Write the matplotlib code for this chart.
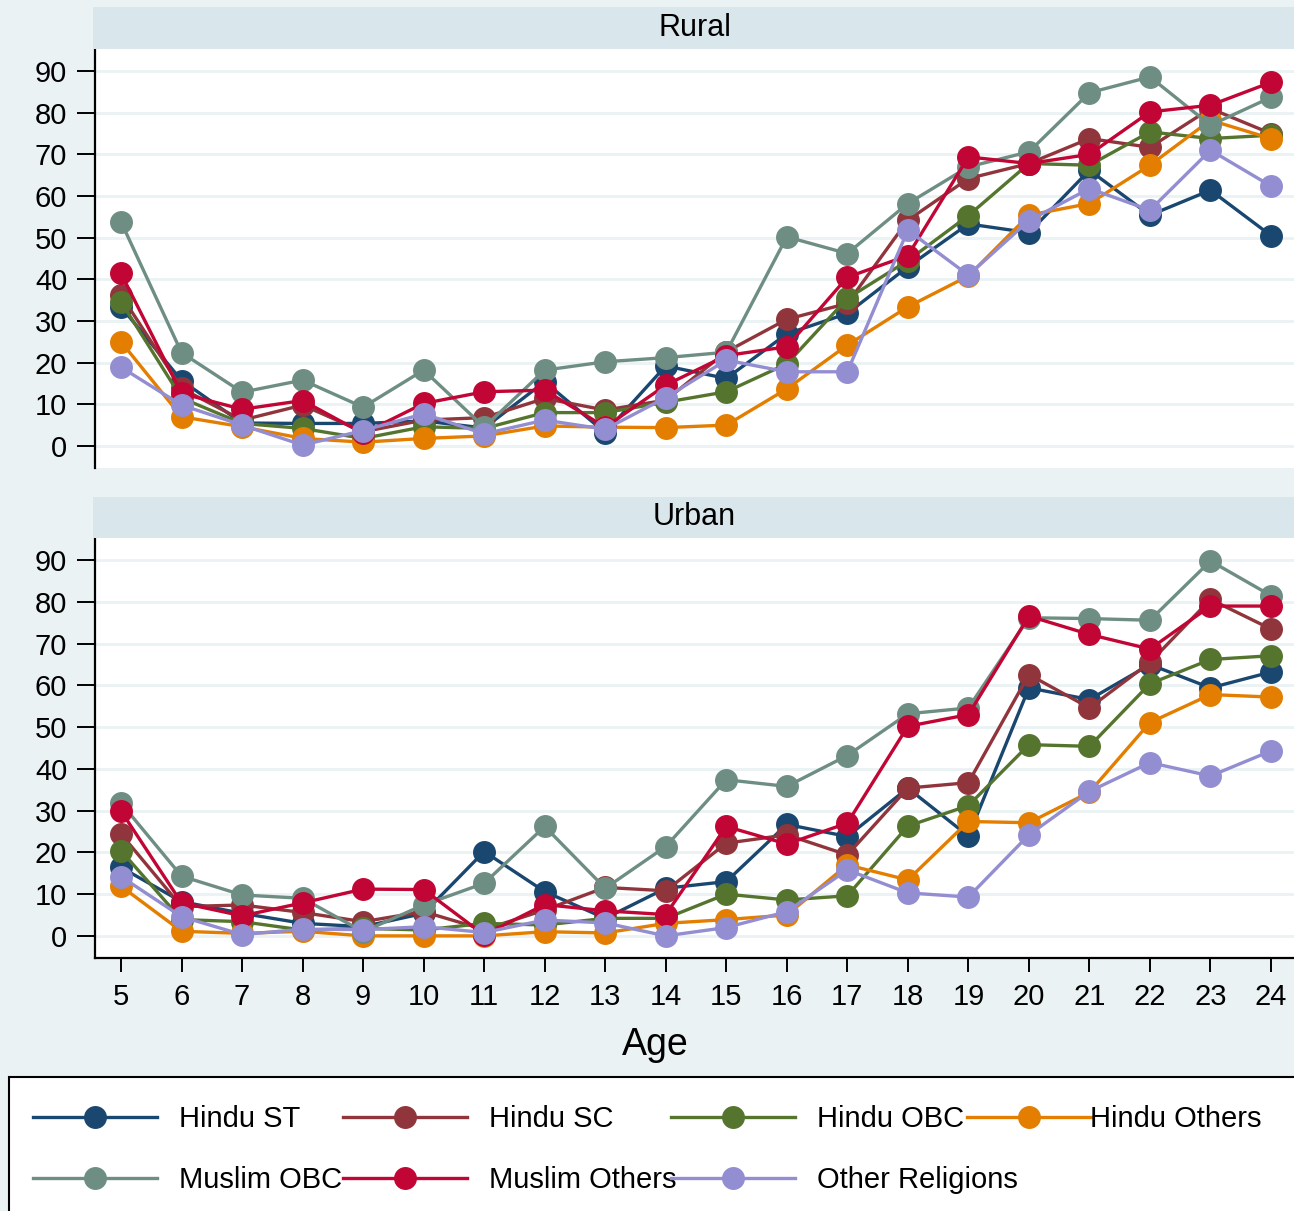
import matplotlib
matplotlib.use("Agg")
import matplotlib.pyplot as plt
from matplotlib.patches import Rectangle

plt.rcParams['font.family'] = ['Liberation Sans', 'DejaVu Sans']

ages = list(range(5, 25))
groups = ['Hindu ST', 'Hindu SC', 'Hindu OBC', 'Hindu Others',
          'Muslim OBC', 'Muslim Others', 'Other Religions']
colors = ['#1A476F', '#90353B', '#55752F', '#E37E00',
          '#6E8E84', '#C10534', '#938DD2']

# rural
hindu_st_r = [33.4, 15.7, 5.5, 5.4, 5.4, 6.0, 4.3, 15.4, 3.2, 19.2, 16.2, 26.9, 31.8, 43.0, 53.3, 51.2, 66.2, 55.4, 61.4, 50.5]
hindu_sc_r = [36.2, 13.8, 6.2, 9.8, 3.4, 6.2, 6.8, 11.4, 8.6, 11.0, 22.6, 30.4, 34.2, 54.2, 64.2, 67.8, 73.8, 71.7, 81.0, 75.0]
hindu_obc_r = [34.6, 11.5, 5.4, 4.2, 1.8, 4.6, 4.2, 8.0, 8.0, 10.5, 13.0, 19.7, 35.4, 44.5, 55.3, 67.8, 67.4, 75.4, 73.8, 74.6]
hindu_oth_r = [25.0, 7.0, 4.6, 1.8, 0.9, 1.8, 2.4, 4.8, 4.5, 4.4, 5.0, 13.7, 24.2, 33.4, 40.8, 55.4, 58.2, 67.4, 78.2, 73.8]
muslim_obc_r = [53.8, 22.4, 12.9, 15.8, 9.3, 18.2, 4.5, 18.2, 20.2, 21.2, 22.5, 50.2, 46.2, 58.2, 67.0, 70.6, 84.8, 88.6, 77.0, 83.7]
muslim_oth_r = [41.4, 12.6, 8.8, 10.9, 3.0, 10.2, 13.0, 13.4, 4.5, 14.6, 21.7, 23.8, 40.5, 45.7, 69.4, 67.8, 70.0, 80.2, 81.8, 87.3]
other_rel_r = [18.9, 9.8, 5.0, 0.2, 3.7, 7.7, 2.9, 6.2, 4.0, 11.6, 20.6, 17.8, 17.8, 51.8, 41.0, 54.1, 61.8, 56.6, 71.0, 62.4]

# urban
hindu_st_u = [16.4, 8.2, 5.4, 3.0, 2.2, 5.4, 20.2, 10.6, 4.2, 11.4, 13.0, 26.7, 23.8, 35.4, 23.9, 59.4, 56.6, 65.0, 59.4, 63.2]
hindu_sc_u = [24.4, 7.0, 7.4, 5.6, 3.4, 5.8, 1.5, 6.2, 11.6, 10.8, 22.2, 24.2, 19.4, 35.4, 36.7, 62.6, 54.6, 65.5, 80.6, 73.5]
hindu_obc_u = [20.4, 3.9, 3.4, 1.4, 1.8, 1.4, 3.0, 2.6, 4.2, 4.2, 10.0, 8.6, 9.6, 26.3, 31.2, 45.8, 45.4, 60.4, 66.2, 67.1]
hindu_oth_u = [11.9, 1.1, 0.6, 1.1, 0.0, 0.0, 0.0, 1.0, 0.7, 3.0, 3.9, 5.0, 17.0, 13.4, 27.4, 27.1, 34.4, 51.1, 57.8, 57.2]
muslim_obc_u = [31.8, 14.3, 9.8, 9.0, 1.0, 7.4, 12.6, 26.2, 11.4, 21.4, 37.4, 35.8, 43.2, 53.2, 54.6, 76.2, 76.0, 75.6, 89.8, 81.5]
muslim_oth_u = [29.9, 7.9, 4.8, 7.9, 11.2, 11.1, 0.2, 7.5, 6.0, 5.1, 26.2, 22.0, 27.0, 50.2, 53.0, 76.6, 72.2, 68.7, 79.0, 79.0]
other_rel_u = [14.2, 4.6, 0.3, 1.6, 1.5, 2.2, 0.8, 3.8, 3.1, 0.0, 2.0, 5.8, 15.8, 10.3, 9.3, 24.2, 34.6, 41.5, 38.3, 44.3]

rural = [hindu_st_r, hindu_sc_r, hindu_obc_r, hindu_oth_r, muslim_obc_r, muslim_oth_r, other_rel_r]
urban = [hindu_st_u, hindu_sc_u, hindu_obc_u, hindu_oth_u, muslim_obc_u, muslim_oth_u, other_rel_u]

W, H = 1294, 1211
bg = '#EAF2F3'
fig = plt.figure(figsize=(W / 100, H / 100), dpi=100, facecolor=bg)


def fx(px):
    return px / W


def fy(py):
    return 1 - py / H


def panel(top, bottom, strip_top, name, series, xaxis):
    ax = fig.add_axes([fx(95), fy(bottom), 1 - fx(95), fy(top) - fy(bottom)])
    ax.set_facecolor('white')
    fig.add_artist(Rectangle((fx(93), fy(top)), 1.0, fy(strip_top) - fy(top),
                             transform=fig.transFigure, facecolor='#D9E6EB',
                             edgecolor='none'))
    fig.text((fx(95) + 1) / 2, (fy(top) + fy(strip_top)) / 2, name,
             ha='center', va='center', fontsize=22)
    lines = []
    for vals, c, g in zip(series, colors, groups):
        ln, = ax.plot(ages, vals, color=c, lw=2.4, marker='o', ms=15.5,
                      mec=c, mfc=c, label=g, clip_on=False)
        lines.append(ln)
    ax.set_xlim(4.57, 24.38)
    ax.set_ylim(-5.3, 95.3)
    ax.set_yticks(range(0, 91, 10))
    ax.yaxis.grid(True, color=bg, lw=2)
    ax.set_axisbelow(True)
    for s in ['top', 'right']:
        ax.spines[s].set_visible(False)
    ax.spines['left'].set_linewidth(1.6)
    ax.tick_params(axis='y', length=13, width=1.4, pad=7, labelsize=21)
    if xaxis:
        ax.spines['bottom'].set_linewidth(1.6)
        ax.set_xticks(ages)
        ax.tick_params(axis='x', length=10, width=1.4, pad=8, labelsize=21)
    else:
        ax.spines['bottom'].set_visible(False)
        ax.set_xticks([])
    return ax, lines


ax_r, lines = panel(49, 468, 7, 'Rural', rural, False)
ax_u, _ = panel(538, 958, 497, 'Urban', urban, True)

fig.text(fx(655), fy(1045), 'Age', ha='center', va='center', fontsize=27)

# legend box, running off the bottom and right edges
fig.add_artist(Rectangle((fx(9), -0.05), 1.0, fy(1077) + 0.05,
                         transform=fig.transFigure, facecolor='white',
                         edgecolor='black', lw=1.5))

col_x = [33, 343, 671, 967]
col_items = [[0, 4], [1, 5], [2, 6], [3]]
col_pad = [0.75, 0.75, 0.75, -0.05]
for x, idx, pad in zip(col_x, col_items, col_pad):
    fig.legend([lines[i] for i in idx], [groups[i] for i in idx],
               loc='upper left', bbox_to_anchor=(fx(x), fy(1105)),
               frameon=False, borderpad=0, borderaxespad=0,
               handlelength=4.25, handletextpad=pad, labelspacing=1.13,
               numpoints=1, fontsize=21)

fig.savefig('out.png', dpi=100, facecolor=bg)
